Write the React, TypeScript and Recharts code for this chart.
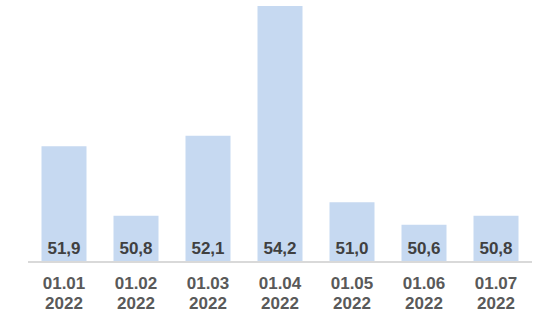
import React from "react";
import { BarChart, Bar, XAxis, YAxis, LabelList } from "recharts";

const dates = ["01.01", "01.02", "01.03", "01.04", "01.05", "01.06", "01.07"];
const years = ["2022", "2022", "2022", "2022", "2022", "2022", "2022"];
const values = [51.9, 50.76, 52.07, 54.2, 50.98, 50.61, 50.76];

const data = dates.map((d, i) => ({ name: d + " " + years[i], value: values[i] }));

const FONT = "'Liberation Sans', Arial, sans-serif";

const Tick = (props: any) => {
  const { x, y, payload } = props;
  const [l1, l2] = String(payload.value).split(" ");
  return (
    <text
      x={x}
      y={y}
      textAnchor="middle"
      fill="#595959"
      fontFamily={FONT}
      fontSize={17}
      fontWeight="bold"
    >
      <tspan x={x} dy={19}>{l1}</tspan>
      <tspan x={x} dy={19.5}>{l2}</tspan>
    </text>
  );
};

export default function App() {
  return (
    <div style={{ position: "absolute", left: 0, top: 0 }}>
      <BarChart
        width={549}
        height={326}
        data={data}
        margin={{ top: 6, right: 17, bottom: 0, left: 28 }}
        barCategoryGap="18.75%"
      >
        <XAxis
          dataKey="name"
          tickLine={false}
          axisLine={{ stroke: "#d9d9d9", strokeWidth: 2 }}
          tick={<Tick />}
          height={64}
          interval={0}
        />
        <YAxis hide domain={[50, 54.2]} allowDataOverflow />
        <Bar dataKey="value" fill="#c6d9f1" isAnimationActive={false}>
          <LabelList
            dataKey="value"
            position="insideBottom"
            offset={8}
            formatter={(v: any) => Number(v).toFixed(1).replace(".", ",")}
            style={{ fill: "#404040", fontFamily: FONT, fontSize: 17, fontWeight: "bold" }}
          />
        </Bar>
      </BarChart>
    </div>
  );
}
